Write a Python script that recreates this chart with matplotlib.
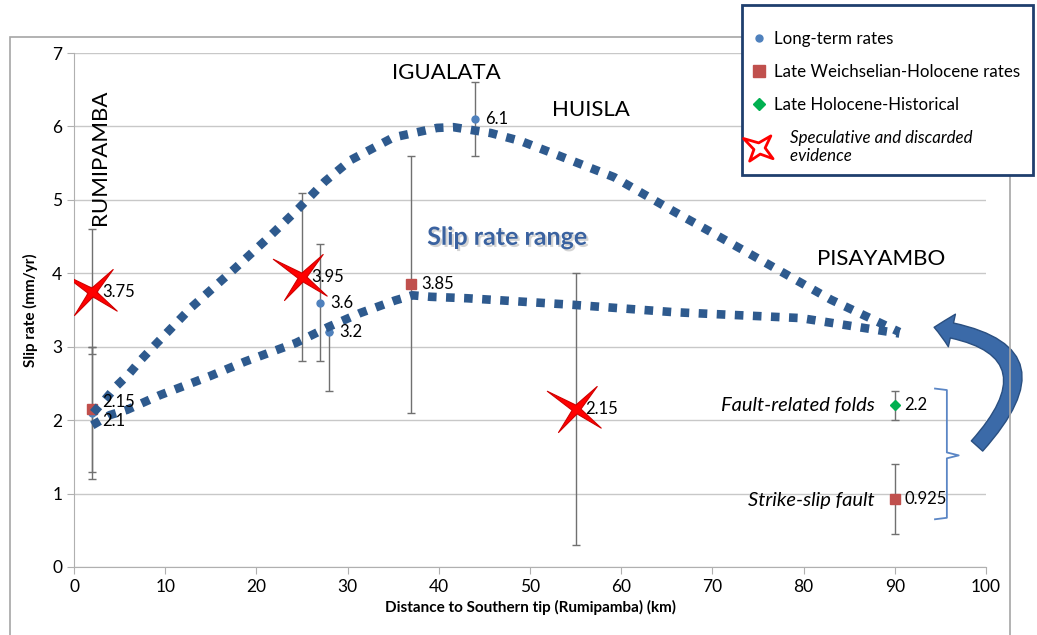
import matplotlib
matplotlib.use("Agg")
import matplotlib.pyplot as plt
import numpy as np
from matplotlib.path import Path
from matplotlib.lines import Line2D
from matplotlib.patches import FancyArrowPatch, Rectangle
import matplotlib.patheffects as pe

plt.rcParams['font.family'] = ['Lato', 'DejaVu Sans']

# Long-term rates (blue circles)
long_x = [2, 25, 27, 28, 44, 55]
long_y = [2.1, 3.95, 3.6, 3.2, 6.1, 2.15]
long_lo = [0.9, 1.15, 0.8, 0.8, 0.5, 1.85]
long_hi = [0.9, 1.15, 0.8, 0.0, 0.5, 1.85]

# Late Weichselian-Holocene rates (red squares)
weich_x = [2, 2, 37, 90]
weich_y = [3.75, 2.15, 3.85, 0.925]
weich_err = [0.85, 0.85, 1.75, 0.475]

# Late Holocene-Historical (green diamonds)
holo_x = [90]
holo_y = [2.2]
holo_err = [0.2]

# Speculative and discarded evidence (stars)
spec_x = [2, 25, 55]
spec_y = [3.75, 3.95, 2.15]

# Hand-drawn slip rate range envelope
upper_x = [2.1, 3.4, 4.7, 6.1, 7.4, 8.7, 12.9, 17.5, 21.0, 24.6, 27.5, 30.3, 35.0, 39.8, 41.6,
           45.7, 49.0, 53.0, 59.2, 65.8, 70.0, 75.3, 83.0, 90.5]
upper_y = [2.1, 2.28, 2.47, 2.64, 2.83, 3.0, 3.54, 4.05, 4.45, 4.88, 5.25, 5.54, 5.85, 5.98, 5.99,
           5.91, 5.8, 5.61, 5.31, 4.84, 4.55, 4.18, 3.64, 3.2]
lower_x = [2.0, 3.95, 5.8, 9.4, 14.9, 18.8, 24.3, 27.9, 31.4, 35.2, 37.1, 39.1, 43.1, 54.8,
           65.8, 79.7, 90.5]
lower_y = [1.93, 2.07, 2.14, 2.34, 2.6, 2.8, 3.05, 3.27, 3.46, 3.63, 3.7, 3.68, 3.66, 3.57,
           3.47, 3.39, 3.18]

xticks = [0, 10, 20, 30, 40, 50, 60, 70, 80, 90, 100]
yticks = [0, 1, 2, 3, 4, 5, 6, 7]

blue = '#4f81bd'
red = '#c0504d'
green = '#00b050'
navy = '#2e5a8e'


def four_star(inner):
    # four-pointed star with slightly uneven, tilted arms
    angles = np.radians([148, -128, -37, 48])
    arm = [1.0, 0.85, 0.9, 0.9]
    verts = []
    for k in range(4):
        a, a2 = angles[k], angles[(k + 1) % 4]
        verts.append((arm[k] * np.cos(a), arm[k] * np.sin(a)))
        mid = np.arctan2(np.sin(a) + np.sin(a2), np.cos(a) + np.cos(a2))
        verts.append((inner * np.cos(mid), inner * np.sin(mid)))
    verts.append(verts[0])
    return Path(verts, [Path.MOVETO] + [Path.LINETO] * 7 + [Path.CLOSEPOLY])


star = four_star(0.13)
star_leg = four_star(0.3)

W, H = 1037, 635
fig = plt.figure(figsize=(10.37, 6.35), dpi=100)
ax = fig.add_axes([0.0714, 0.1071, 0.8795, 0.8094])

# outer chart frame
fig.patches.append(Rectangle((10 / W, -0.02), 1000 / W, 1.02 - 37 / H,
                             transform=fig.transFigure, fill=False, ec='#a6a6a6', lw=1.2, zorder=0))

ax.set_xlim(0, 100)
ax.set_ylim(0, 7)
ax.set_xticks(xticks)
ax.set_yticks(yticks)
ax.grid(axis='y', color='#c8c8c8', lw=1)
ax.set_axisbelow(True)
for s in ['top', 'right']:
    ax.spines[s].set_visible(False)
for s in ['left', 'bottom']:
    ax.spines[s].set_color('#b0b0b0')
ax.tick_params(colors='#b0b0b0', labelcolor='black', labelsize=12.5, length=5)
ax.set_xlabel('Distance to Southern tip (Rumipamba) (km)', fontsize=11, fontweight='bold', labelpad=4)
ax.set_ylabel('Slip rate (mm/yr)', fontsize=11, fontweight='bold', labelpad=10)

ekw = dict(ecolor='#707070', elinewidth=1, capsize=3, capthick=1, ls='none')
ax.errorbar(long_x, long_y, yerr=[long_lo, long_hi], fmt='o', color=blue, ms=5, zorder=3, **ekw)
ax.errorbar(weich_x, weich_y, yerr=weich_err, fmt='s', color=red, ms=7, zorder=3, **ekw)
ax.errorbar(holo_x, holo_y, yerr=holo_err, fmt='D', color=green, ms=5, zorder=3, **ekw)

dash = dict(color=navy, lw=6.2, ls=(0, (1.0, 1.1)), dash_capstyle='butt', zorder=4)
ax.plot(upper_x, upper_y, **dash)
ax.plot(lower_x, lower_y, **dash)

ax.plot(spec_x, spec_y, ls='none', marker=star, ms=42, mfc='#ff0000', mec='#d00000', mew=0.8, zorder=5)

# value labels (the two at x=2 near 2.1 are crowded in the original too)
nudge = {(2, 2.15): 5, (2, 2.1): -6}
for xs, ys in [(long_x, long_y), (weich_x, weich_y), (holo_x, holo_y)]:
    for x, y in zip(xs, ys):
        ax.annotate(f'{y:g}', (x, y), xytext=(7, nudge.get((x, y), 0)), textcoords='offset points',
                    ha='left', va='center', fontsize=12, zorder=6)

# place names
ax.text(2.9, 4.66, 'RUMIPAMBA', rotation=90, fontsize=16, ha='center', va='bottom')
ax.text(40.8, 6.73, 'IGUALATA', fontsize=16, ha='center', va='center')
ax.text(56.7, 6.22, 'HUISLA', fontsize=16, ha='center', va='center')
ax.text(88.5, 4.19, 'PISAYAMBO', fontsize=16, ha='center', va='center')
ax.text(47.5, 4.49, 'Slip rate range', fontsize=18, fontweight='bold', color='#3a62a0',
        ha='center', va='center',
        path_effects=[pe.withSimplePatchShadow(offset=(1.5, -1.5), shadow_rgbFace='#b8b8b8', alpha=0.6)])
ax.text(87.8, 2.2, 'Fault-related folds', fontsize=14.5, style='italic', ha='right', va='center')
ax.text(87.8, 0.9, 'Strike-slip fault', fontsize=14.5, style='italic', ha='right', va='center')

# brace grouping the two recent estimates
bx = [94.4, 95.7, 95.7, 97.0, 95.7, 95.7, 94.4]
by = [2.43, 2.41, 1.56, 1.52, 1.48, 0.67, 0.65]
ax.plot(bx, by, color='#5b86c5', lw=1.3, clip_on=False, zorder=4)

# curved arrow back to the envelope
arr = FancyArrowPatch((98.8, 1.62), (94.0, 3.27), connectionstyle='arc3,rad=0.95',
                      arrowstyle='simple,tail_width=11,head_width=24,head_length=13',
                      mutation_scale=1, fc='#3b6aa8', ec='#2a4f80', lw=1, clip_on=False, zorder=6)
ax.add_patch(arr)

# legend: frame drawn separately so the box can be taller than the entries need
fig.patches.append(Rectangle((742 / W, 1 - 175 / H), 291 / W, 170 / H, transform=fig.transFigure,
                             fc='white', ec='#1f3f6e', lw=2, zorder=8))
handles = [
    Line2D([], [], ls='none', marker='o', color=blue, ms=5),
    Line2D([], [], ls='none', marker='s', color=red, ms=8),
    Line2D([], [], ls='none', marker='D', color=green, ms=6),
    Line2D([], [], ls='none', marker=star_leg, ms=23, mfc='white', mec='#ff0000', mew=2.0),
]
labels = ['Long-term rates', 'Late Weichselian-Holocene rates', 'Late Holocene-Historical',
          '    Speculative and discarded\n    evidence']
leg = fig.legend(handles, labels, loc='upper left', bbox_to_anchor=(752 / W, 1 - 31 / H),
                 fontsize=12.2, frameon=False, handlelength=0.8, handletextpad=0.5,
                 labelspacing=1.0, borderpad=0, borderaxespad=0)
leg.set_zorder(9)
leg.get_texts()[3].set_style('italic')

fig.savefig('out.png', dpi=100)
